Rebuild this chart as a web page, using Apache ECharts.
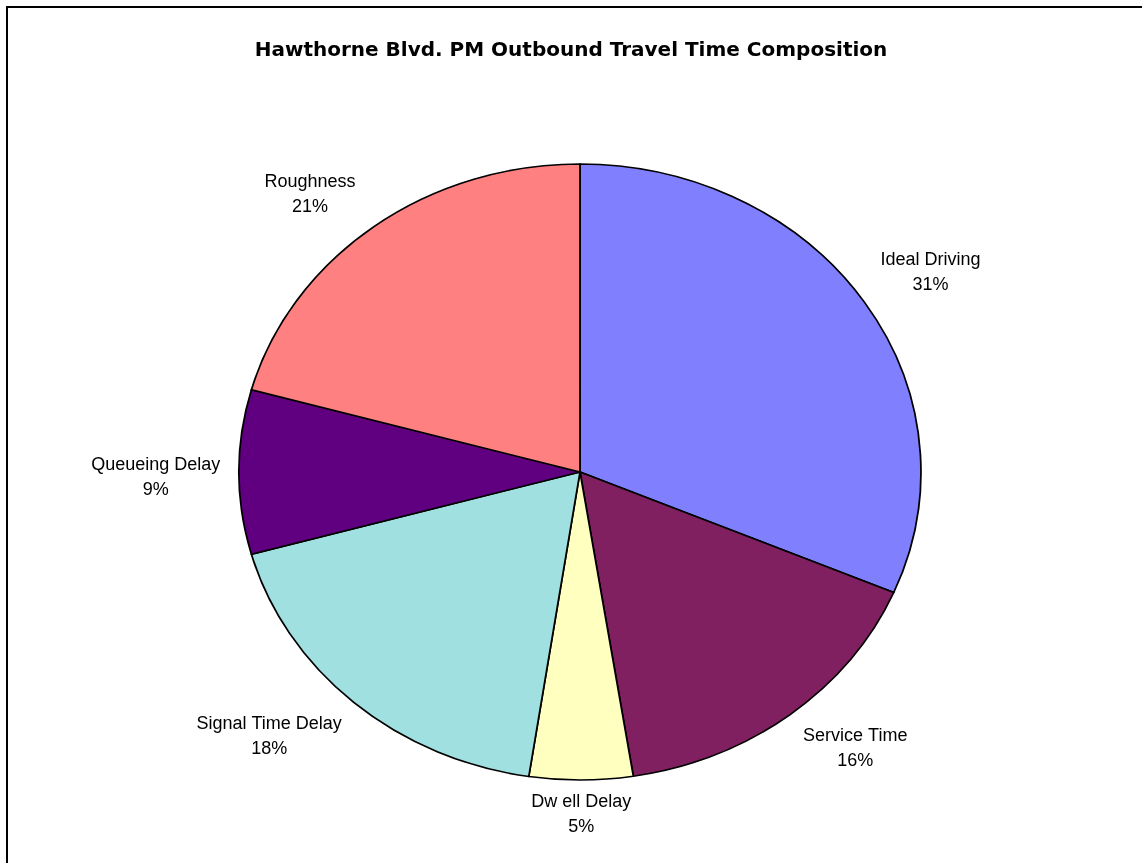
<!DOCTYPE html>
<html>
<head>
<meta charset="utf-8">
<script src="https://cdn.jsdelivr.net/npm/echarts@6/dist/echarts.min.js"></script>
<style>
  html, body { margin: 0; padding: 0; background: #ffffff; overflow: hidden; width: 1142px; height: 863px; }
  #wrap { position: relative; width: 1142px; height: 863px; overflow: hidden; }
  #pie, #fg { position: absolute; left: 0; top: 0; width: 1142px; height: 863px; }
  #pie { transform-origin: 580px 472px; transform: scaleX(1.107); }
  #fg { z-index: 2; }
</style>
</head>
<body>
<div id="wrap">
<div id="pie"></div>
<div id="fg"></div>
</div>
<script>
// ---- data ----
const titleText = 'Hawthorne Blvd. PM Outbound Travel Time Composition';
const categories = ['Ideal Driving', 'Service Time', 'Dwell Delay', 'Signal Time Delay', 'Queueing Delay', 'Roughness'];
const shares = [31.4, 16.1, 4.9, 18.3, 8.6, 20.7];          // percent of travel time
const labelNames = ['Ideal Driving', 'Service Time', 'Dw ell Delay', 'Signal Time Delay', 'Queueing Delay', 'Roughness'];

// ---- styles / layout ----
const colors = ['#8080FF', '#802060', '#FFFFC0', '#A0E0E0', '#600080', '#FF8080'];
const cx = 580, cy = 472, ry = 308, stretch = 1.107;
const rx = ry * stretch;
const labelK = [1.25, 1.13];
const labelNudge = [[-5, -7], [13, 2], [0, -6], [-28, 4], [2, 6], [-12, 0]];

const pieData = categories.map((c, i) => ({ name: c, value: shares[i], itemStyle: { color: colors[i] } }));

const pieChart = echarts.init(document.getElementById('pie'), null, { renderer: 'svg' });
pieChart.setOption({
  animation: false,
  backgroundColor: '#ffffff',
  series: [{
    type: 'pie',
    center: [cx, cy],
    radius: ry,
    startAngle: 90,
    clockwise: true,
    silent: true,
    label: { show: false },
    labelLine: { show: false },
    itemStyle: { borderColor: '#000000', borderWidth: 1.6 },
    data: pieData
  }]
});

// mid angles from data
const total = shares.reduce((a, b) => a + b, 0);
const mids = [];
let acc = 0;
shares.forEach(v => { mids.push((acc + v / 2) / total * 2 * Math.PI); acc += v; });

const fg = echarts.init(document.getElementById('fg'));
fg.setOption({
  animation: false,
  backgroundColor: 'transparent',
  title: {
    text: titleText,
    left: 'center',
    top: 36,
    textStyle: { fontFamily: 'DejaVu Sans', fontWeight: 'bold', fontSize: 20, color: '#000000' }
  },
  graphic: [{
    type: 'polyline', silent: true,
    shape: { points: [[7, 1000], [7, 7], [1400, 7]] },
    style: { fill: 'none', stroke: '#000000', lineWidth: 2 }
  }],
  series: [{
    type: 'pie',
    center: [cx, cy],
    radius: ry,
    startAngle: 90,
    silent: true,
    itemStyle: { color: 'rgba(0,0,0,0)', borderWidth: 0 },
    labelLine: { show: false },
    label: {
      show: true,
      position: 'outside',
      formatter: p => labelNames[p.dataIndex] + '\n' + Math.round(shares[p.dataIndex]) + '%',
      fontFamily: 'Liberation Sans, Arial, sans-serif',
      fontSize: 18,
      lineHeight: 25,
      color: '#000000',
      align: 'center'
    },
    labelLayout: function (params) {
      const i = params.dataIndex;
      const a = mids[i];
      const x = cx + rx * labelK[0] * Math.sin(a) + labelNudge[i][0];
      const y = cy - ry * labelK[1] * Math.cos(a) + labelNudge[i][1];
      return { x: x, y: y, align: 'center', verticalAlign: 'middle' };
    },
    data: categories.map((c, i) => ({ name: c, value: shares[i] }))
  }]
});
</script>
</body>
</html>
